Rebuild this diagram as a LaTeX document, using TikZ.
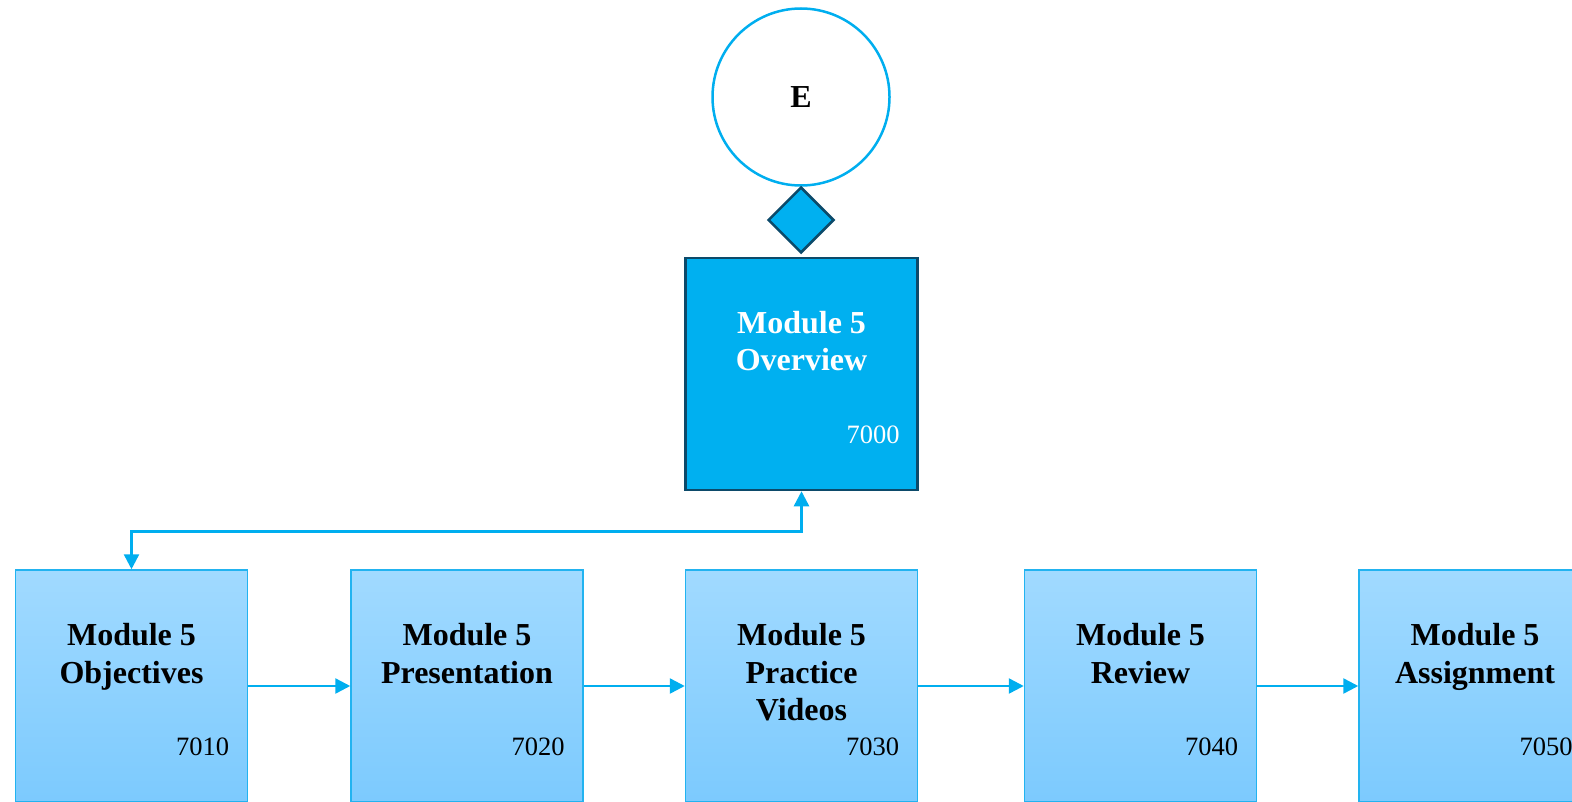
\documentclass[tikz,border=0pt]{standalone}
\usepackage{fontspec}
\setmainfont{Liberation Serif}
\usetikzlibrary{arrows.meta,shapes.geometric}
\definecolor{cyanline}{HTML}{00AEEF}
\definecolor{topfill}{HTML}{00B0F0}
\definecolor{darkedge}{HTML}{0C4A6A}
\definecolor{boxtop}{HTML}{A1DAFF}
\definecolor{boxbot}{HTML}{7CCAFE}
\definecolor{boxedge}{HTML}{22B3F0}
\tikzset{
  modbox/.style={rectangle, minimum width=232bp, minimum height=232bp, inner sep=0pt,
    top color=boxtop, bottom color=boxbot, draw=boxedge, line width=1.5bp},
  overbox/.style={rectangle, minimum width=232bp, minimum height=232bp, inner sep=0pt,
    fill=topfill, draw=darkedge, line width=2.5bp},
  titletext/.style={anchor=north, inner sep=0pt, align=center,
    font=\fontsize{32bp}{37.5bp}\selectfont\bfseries},
  numtext/.style={anchor=base east, inner sep=0pt, font=\fontsize{26.5bp}{30bp}\selectfont},
  flow/.style={draw=cyanline, line width=2.5bp, -{Triangle[length=15bp,width=15bp]}},
  bothflow/.style={draw=cyanline, line width=2.5bp, {Triangle[length=15bp,width=15bp]}-{Triangle[length=15bp,width=15bp]}},
}
\begin{document}
\begin{tikzpicture}[x=1bp,y=-1bp]
\useasboundingbox (0,0) rectangle (1572,801);
\clip (0,0) rectangle (1572,801);
% event circle
\node[circle, draw=cyanline, line width=2.5bp, minimum size=177bp, inner sep=0pt,
  font=\fontsize{32bp}{36bp}\selectfont\bfseries] (ev) at (801,97) {E};
% diamond
\node[diamond, fill=topfill, draw=darkedge, line width=2.5bp, minimum width=66bp, minimum height=66bp, inner sep=0pt] (dia) at (801,220) {};
% overview box
\node[overbox] (ov) at (801.5,374) {};
\node[titletext, text=white] (ovt) at ([yshift=-54bp]ov.north) {Module 5\\Overview};
\node[numtext, text=white] (ovn) at ([xshift=-19bp]ov.north east |- 0,443) {7000};
% bottom boxes
\node[modbox] (b1) at (131.5,686) {};
\node[modbox] (b2) at (467,686) {};
\node[modbox] (b3) at (801.5,686) {};
\node[modbox] (b4) at (1140.5,686) {};
\node[modbox] (b5) at (1475,686) {};
\foreach \b/\t/\n in {b1/{Module 5\\Objectives}/7010, b2/{Module 5\\Presentation}/7020,
    b3/{Module 5\\Practice\\Videos}/7030, b4/{Module 5\\Review}/7040, b5/{Module 5\\Assignment}/7050}{
  \node[titletext] (\b t) at ([yshift=-54bp]\b.north) {\t};
  \node[numtext] (\b n) at ([xshift=-19bp]\b.north east |- 0,755) {\n};
}
% connectors
\draw[bothflow] (ov.south) -- ++(0,40) -| (b1.north);
\draw[flow] (b1.east) -- (b2.west);
\draw[flow] (b2.east) -- (b3.west);
\draw[flow] (b3.east) -- (b4.west);
\draw[flow] (b4.east) -- (b5.west);
\end{tikzpicture}
\end{document}
